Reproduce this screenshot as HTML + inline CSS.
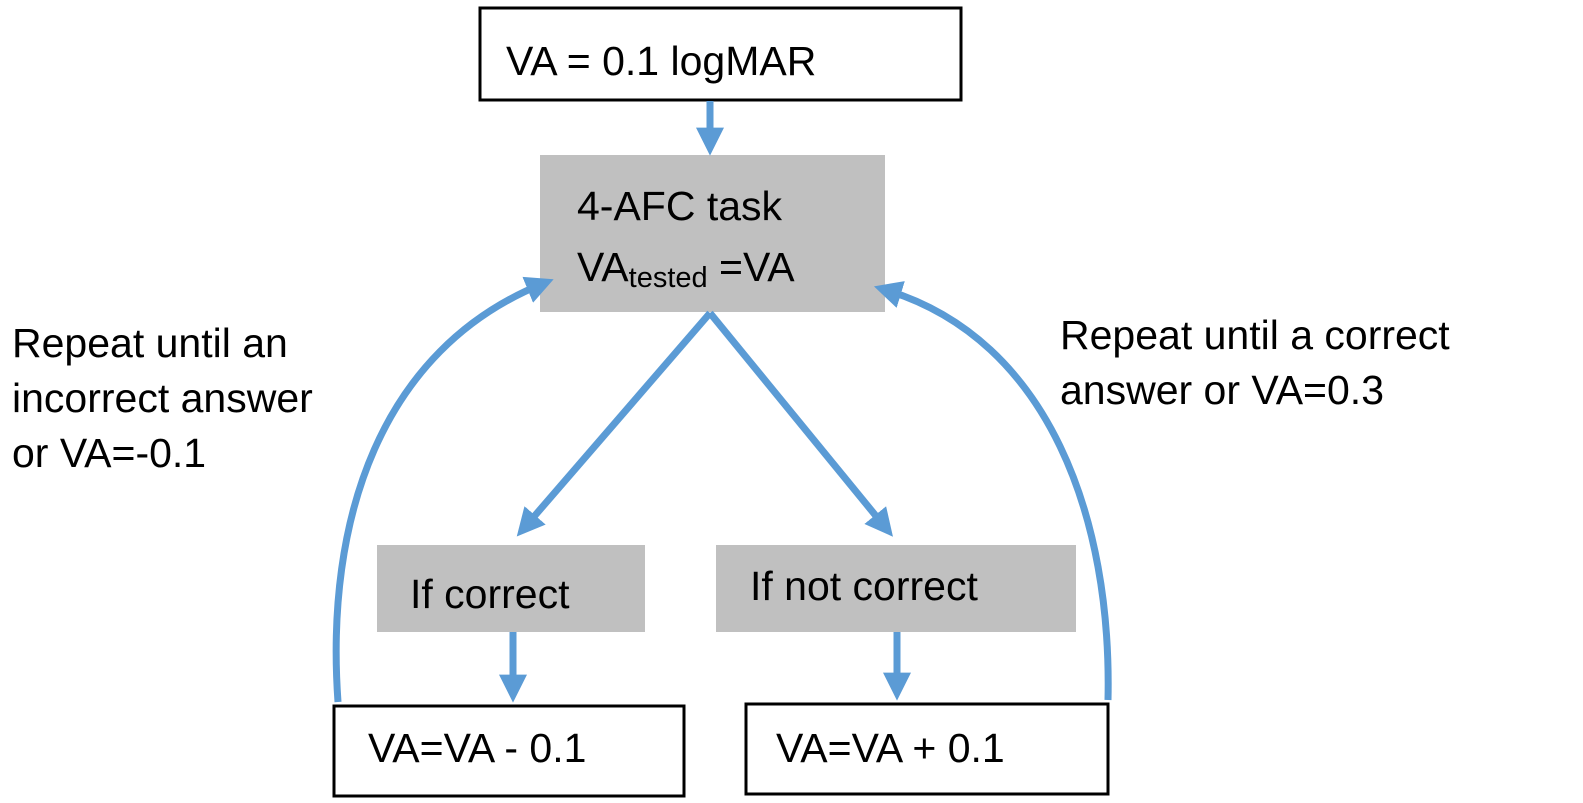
<!DOCTYPE html>
<html><head><style>
body{margin:0;background:#fff;}
svg{display:block;}
text{font-family:"Liberation Sans",Arial,sans-serif;font-size:41px;fill:#000;}
</style></head><body>
<svg width="1583" height="803" viewBox="0 0 1583 803" xmlns="http://www.w3.org/2000/svg">
<defs>
<marker id="ah" markerWidth="4" markerHeight="4" refX="2.2" refY="2" orient="auto" markerUnits="strokeWidth">
<path d="M0,0 L4,2 L0,4 Z" fill="#5b9bd5"/>
</marker>
</defs>
<rect x="480" y="8" width="481" height="92" fill="#fff" stroke="#000" stroke-width="3"/>
<text x="506" y="75">VA = 0.1 logMAR</text>
<rect x="540" y="155" width="345" height="157" fill="#c0c0c0"/>
<text x="577" y="220">4-AFC task</text>
<text x="577" y="281">VA<tspan font-size="29" dy="6">tested</tspan><tspan dy="-6"> =VA</tspan></text>
<rect x="377" y="545" width="268" height="87" fill="#c0c0c0"/>
<text x="410" y="608">If correct</text>
<rect x="716" y="545" width="360" height="87" fill="#c0c0c0"/>
<text x="750" y="600">If not correct</text>
<rect x="334" y="706" width="350" height="90" fill="#fff" stroke="#000" stroke-width="3"/>
<text x="368" y="762">VA=VA - 0.1</text>
<rect x="746" y="704" width="362" height="90" fill="#fff" stroke="#000" stroke-width="3"/>
<text x="776" y="762">VA=VA + 0.1</text>
<g stroke="#5b9bd5" stroke-width="7" fill="none" marker-end="url(#ah)">
<line x1="710" y1="101" x2="710" y2="143"/>
<line x1="710" y1="313" x2="525" y2="527"/>
<line x1="710" y1="313" x2="885" y2="527"/>
<line x1="513" y1="632" x2="513" y2="690"/>
<line x1="897" y1="632" x2="897" y2="688"/>
<path d="M338,702 C325,520 380,350 542,284"/>
<path d="M1108,700 C1112,520 1050,340 886,290"/>
</g>
<text x="12" y="357">Repeat until an</text>
<text x="12" y="412">incorrect answer</text>
<text x="12" y="467">or VA=-0.1</text>
<text x="1060" y="349">Repeat until a correct</text>
<text x="1060" y="404">answer or VA=0.3</text>
</svg>
</body></html>
